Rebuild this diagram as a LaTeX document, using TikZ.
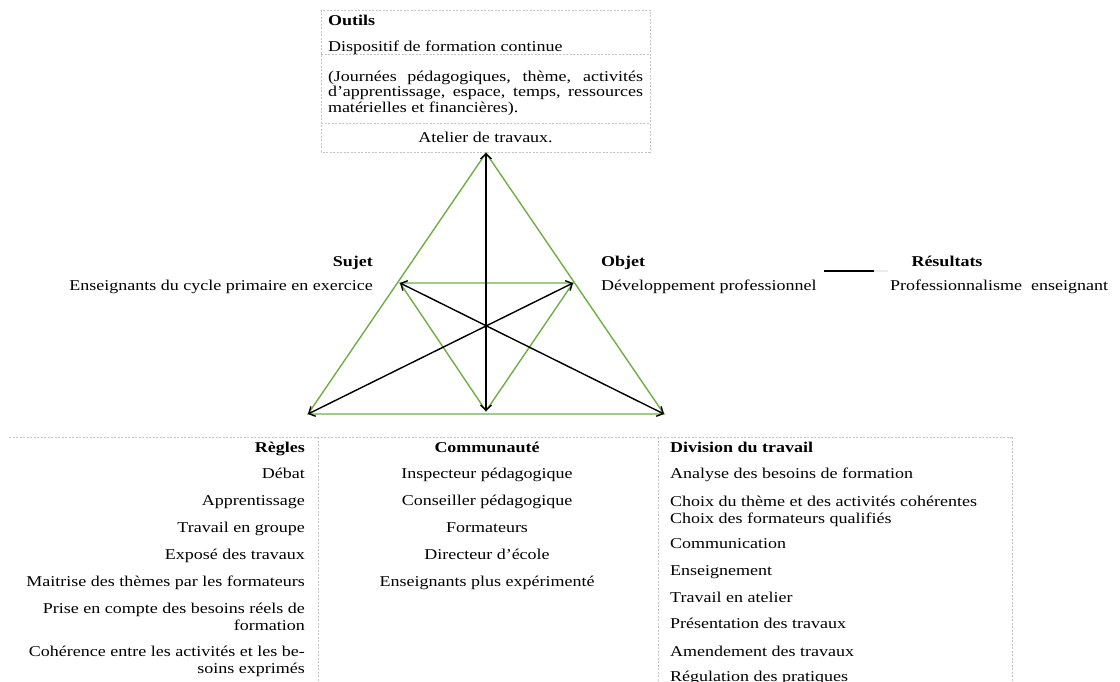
\documentclass[tikz,border=0pt]{standalone}
\usepackage{fontspec}
\setmainfont[FakeStretch=1.2]{Liberation Serif}
\usetikzlibrary{arrows.meta}
\definecolor{tgreen}{RGB}{112,173,71}
\definecolor{dashgrey}{RGB}{195,195,195}
\begin{document}
\begin{tikzpicture}[x=1pt,y=-1pt,
  every node/.style={inner sep=0pt, font=\fontsize{15}{17}\selectfont},
  hd/.style={font=\fontsize{15}{17}\selectfont\bfseries},
  frame/.style={draw=dashgrey, line width=0.6pt, dash pattern=on 2pt off 1.5pt},
  tri/.style={draw=tgreen, line width=1.4pt},
  link/.style={draw=black, line width=1.4pt, {Straight Barb[length=5pt,width=11pt]}-{Straight Barb[length=5pt,width=11pt]}},
  lw/.style={anchor=mid west},
  le/.style={anchor=mid east},
  lc/.style={anchor=mid}
]
\useasboundingbox (0,0) rectangle (1120,682);

% Top box (Outils)
\draw[frame] (321,10) rectangle (650,152);
\draw[frame] (321,54) -- (650,54);
\draw[frame] (321,123) -- (650,123);
\node[hd,lw] (outils) at (328,23) {Outils};
\node[lw] (dispo) at (328,49) {Dispositif de formation continue};
\node[align=left, font=\fontsize{15}{15.5}\selectfont] (journees) at (485.5,93)
  {\makebox[315pt][s]{(Journées pédagogiques, thème, activités}\\
   \makebox[315pt][s]{d’apprentissage, espace, temps, ressources}\\
   matérielles et financières).};
\node[lc] (atelier) at (485.5,140) {Atelier de travaux.};

% Triangle
\coordinate (A) at (486,153);
\coordinate (BL) at (308,414);
\coordinate (BR) at (664,414);
\coordinate (ML) at (400,283);
\coordinate (MR) at (573,283);
\coordinate (MB) at (486,411);
\draw[tri] (A) -- (BL) -- (BR) -- cycle;
\draw[tri] (ML) -- (MR) -- (MB) -- cycle;
\draw[link] (MB) -- (A);
\draw[link] (ML) -- (BR);
\draw[link] (MR) -- (BL);

% Sujet / Objet / Résultats
\node[hd,le] (sujet) at (373,264) {Sujet};
\node[le] (sujettxt) at (373,288) {Enseignants du cycle primaire en exercice};
\node[hd,lw] (objet) at (601,264) {Objet};
\node[lw] (objettxt) at (601,288) {Développement professionnel};
\node[hd,lc] (res) at (947,264) {Résultats};
\node[lw] (restxt) at (890,288) {Professionnalisme\ \ enseignant};
\coordinate (r1) at (824,271);
\coordinate (r2) at (874,271);
\coordinate (r3) at (888,271);
\draw[line width=1.2pt] (r1) -- (r2);
\draw[line width=1.2pt, draw=black!8] (r2) -- (r3);

% Bottom table frames
\draw[frame] (9,437) -- (1012,437);
\draw[frame] (318,437) -- (318,682);
\draw[frame] (658,437) -- (658,682);
\draw[frame] (1012,437) -- (1012,682);

% Règles
\node[hd,le] (regles) at (305,450) {Règles};
\node[le] (r-a) at (305,476) {Débat};
\node[le] (r-b) at (305,503) {Apprentissage};
\node[le] (r-c) at (305,530) {Travail en groupe};
\node[le] (r-d) at (305,557) {Exposé des travaux};
\node[le] (r-e) at (305,584) {Maitrise des thèmes par les formateurs};
\node[anchor=east, align=right] (r-f) at (305,617) {Prise en compte des besoins réels de\\formation};
\node[anchor=east, align=right] (r-g) at (305,661) {Cohérence entre les activités et les be-\\soins exprimés};

% Communauté
\node[hd,lc] (comm) at (487,450) {Communauté};
\node[lc] (c-a) at (487,476) {Inspecteur pédagogique};
\node[lc] (c-b) at (487,503) {Conseiller pédagogique};
\node[lc] (c-c) at (487,530) {Formateurs};
\node[lc] (c-d) at (487,557) {Directeur d’école};
\node[lc] (c-e) at (487,584) {Enseignants plus expérimenté};

% Division du travail
\node[hd,lw] (div) at (670,450) {Division du travail};
\node[lw] (d-a) at (670,476) {Analyse des besoins de formation};
\node[anchor=west, align=left] (d-b) at (670,511) {Choix du thème et des activités cohérentes\\Choix des formateurs qualifiés};
\node[lw] (d-c) at (670,546) {Communication};
\node[lw] (d-d) at (670,573) {Enseignement};
\node[lw] (d-e) at (670,600) {Travail en atelier};
\node[lw] (d-f) at (670,626) {Présentation des travaux};
\node[lw] (d-g) at (670,654) {Amendement des travaux};
\node[lw] (d-h) at (670,679) {Régulation des pratiques};
\end{tikzpicture}
\end{document}
